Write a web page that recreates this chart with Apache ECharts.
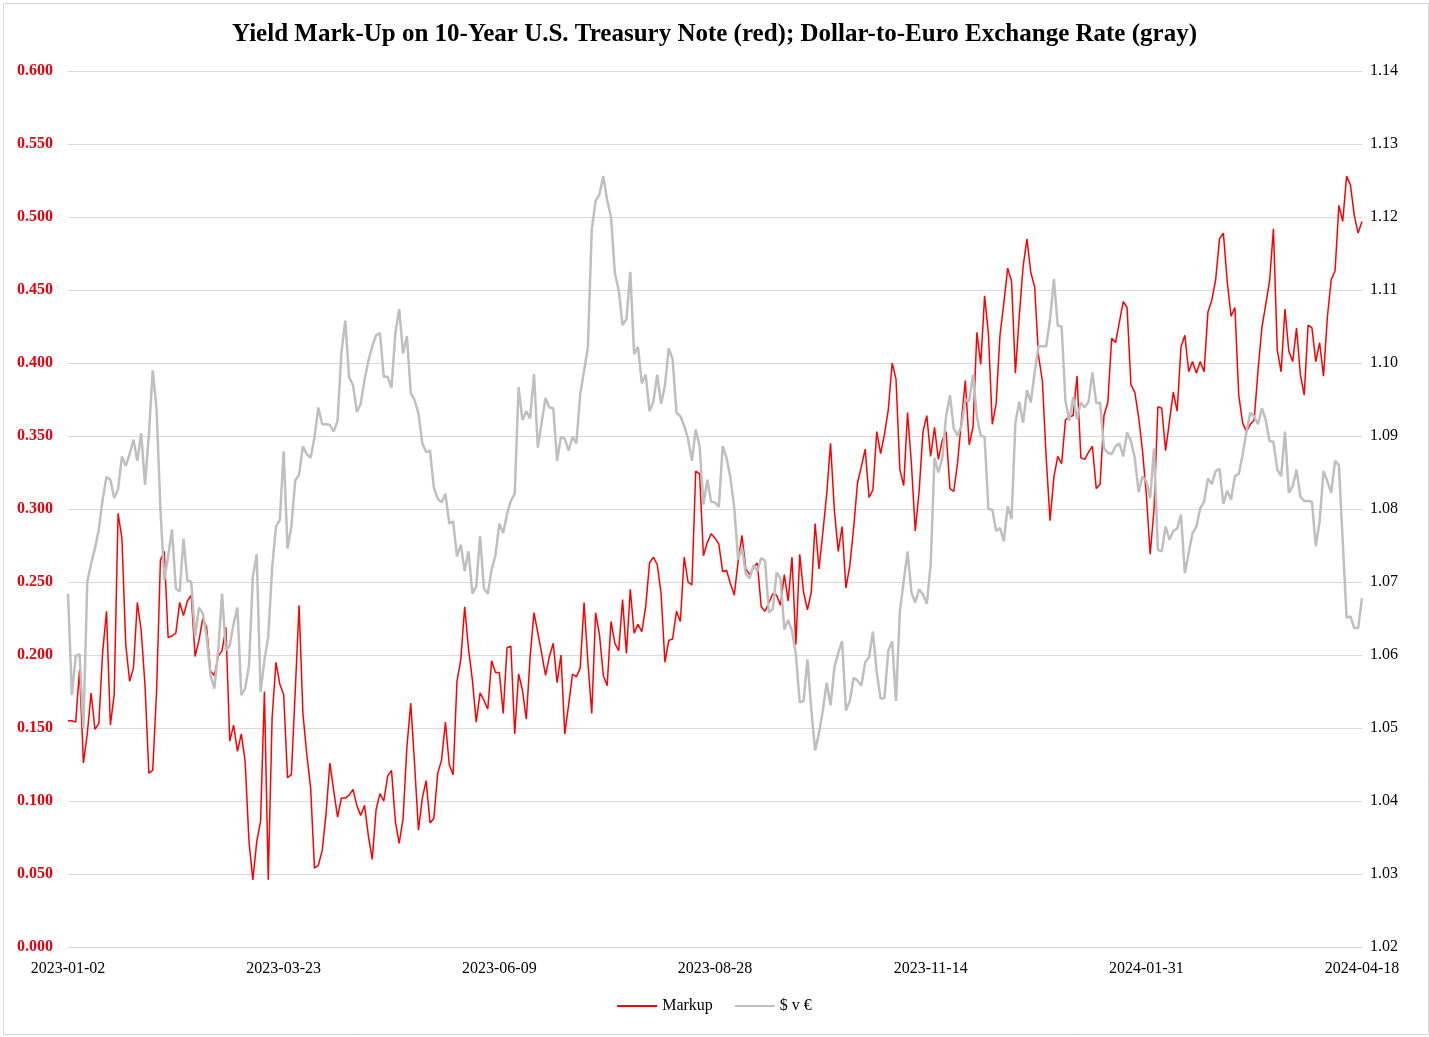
<!DOCTYPE html>
<html>
<head>
<meta charset="utf-8">
<script src="https://cdn.jsdelivr.net/npm/echarts@6/dist/echarts.min.js"></script>
<style>
  html, body { margin: 0; padding: 0; background: #ffffff; }
  #chart { width: 1429px; height: 1037px; }
</style>
</head>
<body>
<div id="chart"></div>
<script>
// ---- DATA ----
const startDate = '2023-01-02';
const endDate = '2024-04-18';
const skippedDates = ['2023-01-16', '2023-02-20'];
const xTickLabels = ['2023-01-02', '2023-03-23', '2023-06-09', '2023-08-28', '2023-11-14', '2024-01-31', '2024-04-18'];

const markup = [
  0.155, 0.155, 0.154, 0.190, 0.126, 0.146, 0.174, 0.149, 0.153, 0.202,
  0.230, 0.152, 0.173, 0.297, 0.280, 0.207, 0.182, 0.191, 0.236, 0.217,
  0.179, 0.119, 0.121, 0.175, 0.265, 0.271, 0.212, 0.213, 0.215, 0.236,
  0.227, 0.237, 0.241, 0.199, 0.210, 0.225, 0.219, 0.189, 0.186, 0.199,
  0.203, 0.219, 0.141, 0.152, 0.134, 0.146, 0.127, 0.072, 0.046, 0.072,
  0.086, 0.175, 0.046, 0.157, 0.195, 0.180, 0.173, 0.116, 0.118, 0.175,
  0.234, 0.160, 0.132, 0.109, 0.054, 0.056, 0.066, 0.091, 0.126, 0.107,
  0.089, 0.102, 0.102, 0.104, 0.108, 0.097, 0.090, 0.097, 0.076, 0.060,
  0.094, 0.105, 0.100, 0.117, 0.121, 0.086, 0.071, 0.088, 0.137, 0.167,
  0.125, 0.080, 0.102, 0.114, 0.085, 0.088, 0.119, 0.128, 0.154, 0.125,
  0.118, 0.182, 0.197, 0.233, 0.204, 0.183, 0.154, 0.174, 0.169, 0.163,
  0.196, 0.188, 0.188, 0.160, 0.205, 0.206, 0.146, 0.187, 0.176, 0.156,
  0.199, 0.229, 0.215, 0.201, 0.186, 0.199, 0.208, 0.181, 0.200, 0.146,
  0.166, 0.187, 0.185, 0.191, 0.236, 0.195, 0.160, 0.229, 0.214, 0.186,
  0.179, 0.223, 0.208, 0.203, 0.238, 0.201, 0.245, 0.215, 0.221, 0.216,
  0.233, 0.263, 0.267, 0.262, 0.242, 0.195, 0.210, 0.211, 0.230, 0.223,
  0.267, 0.250, 0.248, 0.326, 0.324, 0.268, 0.277, 0.283, 0.280, 0.276,
  0.257, 0.258, 0.249, 0.241, 0.264, 0.282, 0.259, 0.255, 0.260, 0.263,
  0.233, 0.230, 0.236, 0.242, 0.241, 0.234, 0.255, 0.237, 0.267, 0.207,
  0.269, 0.243, 0.231, 0.243, 0.290, 0.259, 0.284, 0.310, 0.345, 0.299,
  0.271, 0.288, 0.246, 0.261, 0.287, 0.318, 0.329, 0.341, 0.308, 0.313,
  0.353, 0.338, 0.351, 0.368, 0.400, 0.389, 0.327, 0.316, 0.366, 0.331,
  0.285, 0.312, 0.353, 0.364, 0.336, 0.356, 0.334, 0.347, 0.353, 0.314,
  0.312, 0.332, 0.361, 0.388, 0.344, 0.356, 0.421, 0.399, 0.446, 0.420,
  0.358, 0.372, 0.419, 0.441, 0.465, 0.456, 0.393, 0.432, 0.466, 0.485,
  0.462, 0.452, 0.405, 0.388, 0.335, 0.292, 0.322, 0.336, 0.331, 0.361,
  0.363, 0.364, 0.391, 0.335, 0.334, 0.339, 0.343, 0.314, 0.317, 0.364,
  0.373, 0.417, 0.414, 0.428, 0.442, 0.438, 0.385, 0.380, 0.363, 0.340,
  0.310, 0.269, 0.300, 0.370, 0.369, 0.340, 0.360, 0.380, 0.367, 0.411,
  0.419, 0.394, 0.401, 0.393, 0.401, 0.394, 0.435, 0.443, 0.457, 0.485,
  0.489, 0.456, 0.432, 0.438, 0.378, 0.359, 0.353, 0.358, 0.361, 0.395,
  0.424, 0.440, 0.456, 0.492, 0.409, 0.394, 0.437, 0.408, 0.401, 0.424,
  0.392, 0.378, 0.426, 0.424, 0.401, 0.414, 0.391, 0.431, 0.457, 0.463,
  0.508, 0.497, 0.528, 0.522, 0.501, 0.489, 0.497
];

const usdEur = [
  1.0684, 1.0545, 1.0599, 1.0601, 1.0500, 1.0700, 1.0725, 1.0746, 1.0772, 1.0813,
  1.0844, 1.0840, 1.0815, 1.0827, 1.0872, 1.0859, 1.0875, 1.0895, 1.0866, 1.0904,
  1.0833, 1.0902, 1.0990, 1.0937, 1.0800, 1.0703, 1.0735, 1.0772, 1.0691, 1.0687,
  1.0759, 1.0702, 1.0700, 1.0625, 1.0665, 1.0657, 1.0625, 1.0572, 1.0554, 1.0606,
  1.0684, 1.0606, 1.0613, 1.0643, 1.0665, 1.0545, 1.0554, 1.0586, 1.0707, 1.0738,
  1.0549, 1.0593, 1.0625, 1.0719, 1.0776, 1.0785, 1.0879, 1.0746, 1.0776, 1.0839,
  1.0847, 1.0886, 1.0875, 1.0870, 1.0898, 1.0939, 1.0916, 1.0916, 1.0915, 1.0906,
  1.0921, 1.1015, 1.1058, 1.0980, 1.0970, 1.0933, 1.0944, 1.0977, 1.1003, 1.1023,
  1.1038, 1.1041, 1.0981, 1.0981, 1.0966, 1.1041, 1.1074, 1.1013, 1.1037, 1.0959,
  1.0949, 1.0931, 1.0890, 1.0878, 1.0880, 1.0829, 1.0814, 1.0809, 1.0821, 1.0780,
  1.0783, 1.0735, 1.0751, 1.0715, 1.0742, 1.0684, 1.0694, 1.0763, 1.0691, 1.0684,
  1.0717, 1.0737, 1.0780, 1.0767, 1.0793, 1.0811, 1.0821, 1.0967, 1.0922, 1.0934,
  1.0924, 1.0985, 1.0884, 1.0919, 1.0952, 1.0939, 1.0938, 1.0866, 1.0899, 1.0896,
  1.0880, 1.0899, 1.0890, 1.0957, 1.0989, 1.1022, 1.1183, 1.1222, 1.1231, 1.1256,
  1.1223, 1.1200, 1.1123, 1.1100, 1.1052, 1.1060, 1.1125, 1.1012, 1.1022, 1.0972,
  1.0984, 1.0934, 1.0947, 1.0984, 1.0944, 1.0969, 1.1020, 1.1005, 1.0932, 1.0927,
  1.0914, 1.0896, 1.0866, 1.0909, 1.0886, 1.0806, 1.0840, 1.0810, 1.0809, 1.0803,
  1.0886, 1.0870, 1.0843, 1.0802, 1.0731, 1.0747, 1.0711, 1.0705, 1.0723, 1.0715,
  1.0733, 1.0729, 1.0658, 1.0663, 1.0713, 1.0705, 1.0635, 1.0648, 1.0633, 1.0601,
  1.0535, 1.0537, 1.0594, 1.0526, 1.0469, 1.0493, 1.0524, 1.0562, 1.0531, 1.0583,
  1.0603, 1.0619, 1.0524, 1.0537, 1.0569, 1.0565, 1.0558, 1.0590, 1.0597, 1.0632,
  1.0576, 1.0540, 1.0541, 1.0606, 1.0619, 1.0537, 1.0660, 1.0701, 1.0742, 1.0686,
  1.0672, 1.0690, 1.0683, 1.0670, 1.0724, 1.0870, 1.0850, 1.0869, 1.0927, 1.0956,
  1.0910, 1.0901, 1.0914, 1.0950, 1.0948, 1.0984, 1.0927, 1.0900, 1.0899, 1.0800,
  1.0799, 1.0770, 1.0774, 1.0756, 1.0804, 1.0786, 1.0918, 1.0947, 1.0918, 1.0963,
  1.0946, 1.0987, 1.1023, 1.1023, 1.1023, 1.1060, 1.1115, 1.1051, 1.1050, 1.0948,
  1.0921, 1.0953, 1.0923, 1.0946, 1.0939, 1.0947, 1.0987, 1.0945, 1.0946, 1.0883,
  1.0877, 1.0875, 1.0886, 1.0890, 1.0872, 1.0905, 1.0893, 1.0870, 1.0823, 1.0845,
  1.0838, 1.0815, 1.0883, 1.0744, 1.0742, 1.0776, 1.0758, 1.0770, 1.0773, 1.0792,
  1.0712, 1.0740, 1.0767, 1.0776, 1.0801, 1.0810, 1.0842, 1.0834, 1.0852, 1.0855,
  1.0807, 1.0825, 1.0813, 1.0845, 1.0848, 1.0874, 1.0906, 1.0932, 1.0927, 1.0916,
  1.0938, 1.0922, 1.0893, 1.0892, 1.0854, 1.0845, 1.0906, 1.0822, 1.0831, 1.0854,
  1.0817, 1.0811, 1.0811, 1.0810, 1.0749, 1.0783, 1.0852, 1.0838, 1.0822, 1.0866,
  1.0860, 1.0755, 1.0651, 1.0653, 1.0637, 1.0637, 1.0678
];

// ---- trading-day categories (weekdays, minus skipped dates) ----
function buildDates(start, end, skip) {
  const out = [];
  const d = new Date(start + 'T00:00:00Z');
  const e = new Date(end + 'T00:00:00Z');
  while (d <= e) {
    const day = d.getUTCDay();
    const s = d.toISOString().slice(0, 10);
    if (day !== 0 && day !== 6 && skip.indexOf(s) < 0) out.push(s);
    d.setUTCDate(d.getUTCDate() + 1);
  }
  return out;
}
const dates = buildDates(startDate, endDate, skippedDates);

const SERIF = '"Liberation Serif", "Times New Roman", "DejaVu Serif", serif';

const chart = echarts.init(document.getElementById('chart'), null, { renderer: 'canvas' });
chart.setOption({
  backgroundColor: '#ffffff',
  animation: false,
  title: {
    text: 'Yield Mark-Up on 10-Year U.S. Treasury Note (red); Dollar-to-Euro Exchange Rate (gray)',
    left: 'center',
    top: 17,
    textStyle: { fontFamily: SERIF, fontWeight: 'bold', fontSize: 25, color: '#000000' }
  },
  legend: {
    bottom: 18,
    left: 'center',
    itemWidth: 40,
    itemHeight: 2,
    itemGap: 22,
    icon: 'rect',
    textStyle: { fontFamily: SERIF, fontSize: 16, color: '#000000' },
    data: [
      { name: 'Markup', icon: 'rect', itemStyle: { color: '#ff0000' } },
      { name: '$ v €', icon: 'rect', itemStyle: { color: '#bfbfbf' } }
    ]
  },
  grid: { left: 68, right: 67, top: 71, bottom: 90, containLabel: false },
  xAxis: {
    type: 'category',
    data: dates,
    boundaryGap: false,
    axisLine: { show: true, lineStyle: { color: '#d9d9d9', width: 1 } },
    axisTick: { show: false },
    axisLabel: {
      interval: function (index, value) { return xTickLabels.indexOf(value) >= 0; },
      fontFamily: SERIF, fontSize: 16, color: '#000000', margin: 14,
      showMaxLabel: true, showMinLabel: true
    },
    splitLine: { show: false }
  },
  yAxis: [
    {
      type: 'value', min: 0, max: 0.6, interval: 0.05, position: 'left',
      axisLine: { show: false }, axisTick: { show: false },
      axisLabel: {
        formatter: function (v) { return v.toFixed(3); },
        fontFamily: SERIF, fontSize: 16, fontWeight: 'bold', color: '#e8000b', margin: 15
      },
      splitLine: { show: true, lineStyle: { color: '#d9d9d9', width: 1 } }
    },
    {
      type: 'value', min: 1.02, max: 1.14, interval: 0.01, position: 'right',
      axisLine: { show: false }, axisTick: { show: false },
      axisLabel: {
        formatter: function (v) { return v.toFixed(2); },
        fontFamily: SERIF, fontSize: 16, color: '#000000', margin: 8
      },
      splitLine: { show: false }
    }
  ],
  series: [
    {
      name: 'Markup', type: 'line', yAxisIndex: 0, data: markup,
      symbol: 'none', showSymbol: false, smooth: false,
      lineStyle: { color: '#ff0000', width: 1.5 }, itemStyle: { color: '#ff0000' }
    },
    {
      name: '$ v €', type: 'line', yAxisIndex: 1, data: usdEur,
      symbol: 'none', showSymbol: false, smooth: false,
      lineStyle: { color: '#bfbfbf', width: 2.5 }, itemStyle: { color: '#bfbfbf' }
    }
  ],
  graphic: [
    {
      type: 'rect', left: 1, top: 1, silent: true, z: -10,
      shape: { width: 1425, height: 1031 },
      style: { fill: 'none', stroke: '#d9d9d9', lineWidth: 1 }
    }
  ]
});
</script>
</body>
</html>
